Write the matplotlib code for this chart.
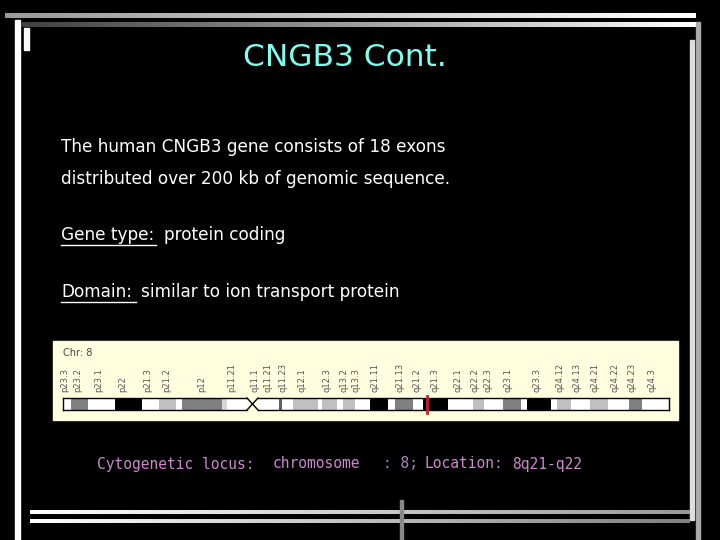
import matplotlib
matplotlib.use("Agg")
import matplotlib.pyplot as plt
from matplotlib.patches import Rectangle
import numpy as np

# Band data (ideogram units along chromosome 8 image)
band_start = [63, 71, 88, 115, 142, 159, 176, 182, 222, 227, 258, 279, 282, 293, 318, 322, 337, 343, 355, 370, 388, 395, 413, 423, 448, 473, 484, 503, 521, 527, 551, 557, 571, 590, 608, 629, 642]
band_end   = [71, 88, 115, 142, 159, 176, 182, 222, 227, 247, 279, 282, 293, 318, 322, 337, 343, 355, 370, 388, 395, 413, 423, 448, 473, 484, 503, 521, 527, 551, 557, 571, 590, 608, 629, 642, 669]
band_color = ['#ffffff', '#808080', '#ffffff', '#000000', '#ffffff', '#c0c0c0', '#ffffff', '#808080', '#d8d8d8', '#ffffff',
              '#ffffff', '#606060', '#ffffff', '#c0c0c0', '#ffffff', '#c0c0c0', '#ffffff', '#c0c0c0', '#ffffff', '#000000',
              '#ffffff', '#808080', '#ffffff', '#000000', '#ffffff', '#c0c0c0', '#ffffff', '#808080', '#ffffff', '#000000',
              '#ffffff', '#c0c0c0', '#ffffff', '#c0c0c0', '#ffffff', '#808080', '#ffffff']
band_labels = ['p23.3', 'p23.2', 'p23.1', 'p22', 'p21.3', 'p21.2', 'p12', 'p11.21', 'q11.1', 'q11.21', 'q11.23',
               'q12.1', 'q12.3', 'q13.2', 'q13.3', 'q21.11', 'q21.13', 'q21.2', 'q21.3', 'q22.1', 'q22.2', 'q22.3',
               'q23.1', 'q23.3', 'q24.12', 'q24.13', 'q24.21', 'q24.22', 'q24.23', 'q24.3']
label_pos = [65, 78, 99, 123, 148, 167, 202, 232, 255, 268, 283, 302, 327, 344, 356, 375, 400, 417, 435, 458,
             475, 488, 508, 537, 560, 577, 595, 615, 632, 652]
gene_pos = 427

fig = plt.figure(figsize=(7.2, 5.4), dpi=100)
fig.patch.set_facecolor('black')
ax = fig.add_axes([0, 0, 1, 1])
ax.set_xlim(0, 720)
ax.set_ylim(540, 0)
ax.axis('off')
ax.set_facecolor('black')

def grad_bar(x0, x1, y0, y1, c0, c1):
    g = np.linspace(c0, c1, 256).reshape(1, -1)
    ax.imshow(g, cmap='gray', vmin=0, vmax=1, extent=(x0, x1, y1, y0), aspect='auto', zorder=1)
grad_bar(5, 696, 13, 18, 0.6, 1.0)
grad_bar(22, 696, 22, 27, 0.25, 1.0)
ax.add_patch(Rectangle((15, 20), 5, 520, color='white', zorder=1))
ax.add_patch(Rectangle((24, 28), 5, 22, color='white', zorder=1))
ax.add_patch(Rectangle((696, 22), 4, 518, color='#aaaaaa', zorder=1))
ax.add_patch(Rectangle((690, 40), 4, 480, color='#dddddd', zorder=1))
grad_bar(30, 690, 510, 514, 1.0, 0.6)
grad_bar(30, 690, 519, 523, 1.0, 0.5)
ax.add_patch(Rectangle((400, 500), 3, 40, color='#888888', zorder=1))

ax.text(345, 58, 'CNGB3 Cont.', color='#7fffef', fontsize=22.5, ha='center', va='center')
fs = 12.2
ax.text(61, 147, 'The human CNGB3 gene consists of 18 exons', color='white', fontsize=fs, va='center')
ax.text(61, 179, 'distributed over 200 kb of genomic sequence.', color='white', fontsize=fs, va='center')
ax.text(61, 235, 'Gene type:', color='white', fontsize=fs, va='center')
ax.plot([61, 156], [245, 245], color='white', lw=1)
ax.text(164, 235, 'protein coding', color='white', fontsize=fs, va='center')
ax.text(61, 292, 'Domain:', color='white', fontsize=fs, va='center')
ax.plot([61, 136], [302, 302], color='white', lw=1)
ax.text(141, 292, 'similar to ion transport protein', color='white', fontsize=fs, va='center')

# ideogram panel
ax.add_patch(Rectangle((53, 341), 625, 79, color='#ffffe0', zorder=2))
ax.text(63, 353, 'Chr: 8', color='#444444', fontsize=7, va='center', zorder=3)
for s, e, c in zip(band_start, band_end, band_color):
    ax.add_patch(Rectangle((s, 398), e - s, 12, facecolor=c, edgecolor='none', zorder=3))
for y in (398, 410):
    ax.plot([63, 247], [y, y], color='black', lw=1, zorder=4)
    ax.plot([258, 669], [y, y], color='black', lw=1, zorder=4)
ax.plot([63, 63], [398, 410], color='black', lw=1, zorder=4)
ax.plot([669, 669], [398, 410], color='black', lw=1, zorder=4)
ax.plot([247, 258], [398, 410], color='black', lw=1, zorder=4)
ax.plot([247, 258], [410, 398], color='black', lw=1, zorder=4)
ax.plot([gene_pos, gene_pos], [396, 413], color='#cc2020', lw=2, zorder=5)
for lab, x in zip(band_labels, label_pos):
    ax.text(x, 392, lab, rotation=90, fontsize=6, color='#555555', ha='center', va='bottom', zorder=3)

mono = 'DejaVu Sans Mono'
ax.text(97, 464, 'Cytogenetic locus:', color='#cc88cc', fontsize=10.5, family=mono, va='center')
ax.text(273, 464, 'chromosome', color='#cc88cc', fontsize=10.5, family=mono, va='center')
ax.text(383, 464, ': 8;', color='#aa88bb', fontsize=10.5, family=mono, va='center')
ax.text(425, 464, 'Location:', color='#cc88cc', fontsize=10.5, family=mono, va='center')
ax.text(512, 464, '8q21-q22', color='#cc88cc', fontsize=10.5, family=mono, va='center')

fig.savefig('out.png', dpi=100, facecolor='black')
